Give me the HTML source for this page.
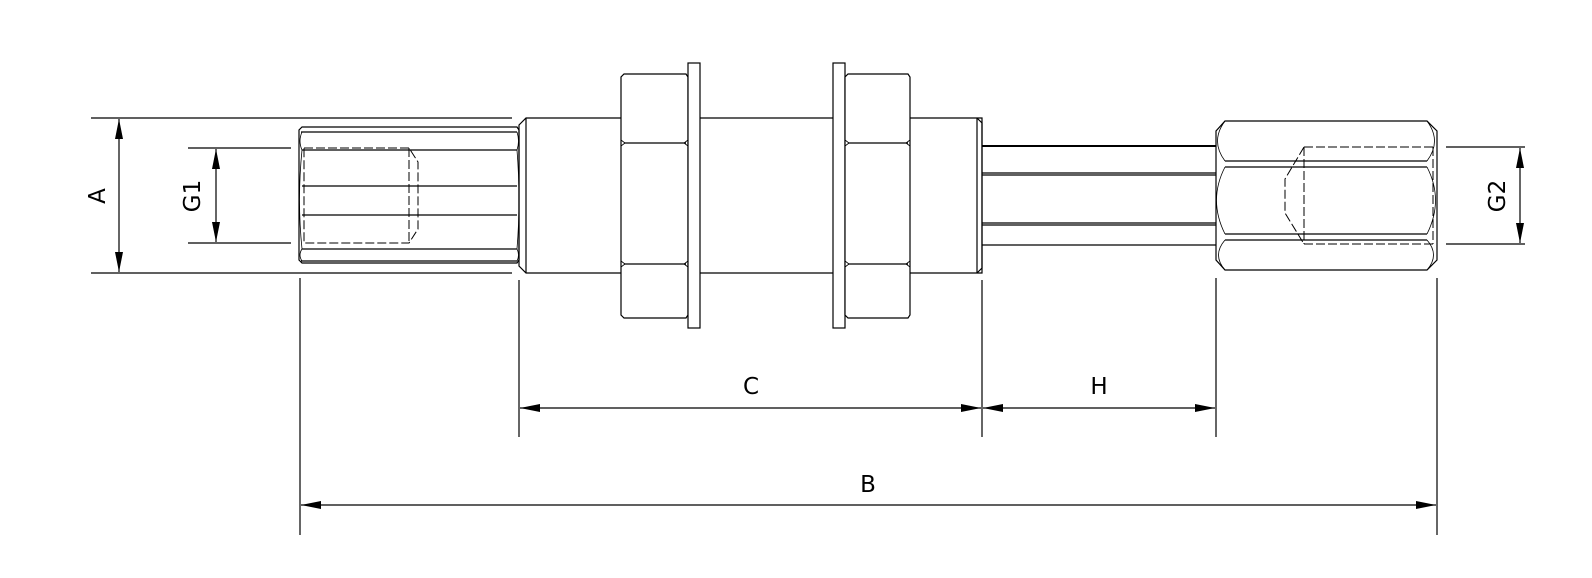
<!DOCTYPE html>
<html><head><style>html,body{margin:0;padding:0;background:#fff}svg{display:block}</style></head>
<body>
<svg width="1592" height="578" viewBox="0 0 1592 578" xmlns="http://www.w3.org/2000/svg" font-family="'DejaVu Sans','Liberation Sans',sans-serif" font-size="23">
<defs>
<marker id="ar" viewBox="0 0 20 8" refX="20" refY="4" markerWidth="20" markerHeight="8" markerUnits="userSpaceOnUse" orient="auto-start-reverse"><path d="M0,0 L20,4 L0,8 Z" fill="#000"/></marker>
</defs>
<g stroke="#000" stroke-width="1.2" fill="none">
<!-- A dimension -->
<line x1="91" y1="118" x2="512" y2="118"/><line x1="91" y1="273" x2="512" y2="273"/>
<line x1="119" y1="119" x2="119" y2="272" marker-start="url(#ar)" marker-end="url(#ar)"/>
<!-- G1 -->
<line x1="188" y1="148" x2="291" y2="148"/><line x1="188" y1="243" x2="291" y2="243"/>
<line x1="216" y1="149" x2="216" y2="242" marker-start="url(#ar)" marker-end="url(#ar)"/>
<!-- left fitting -->
<path d="M302,127 L517,127 L519,130 L519,260 L517,263 L302,263 L299,260 L299,130 Z"/>
<line x1="301" y1="132" x2="517" y2="132"/>
<line x1="302" y1="150" x2="517" y2="150"/>
<line x1="302" y1="186" x2="517" y2="186"/>
<line x1="302" y1="215" x2="517" y2="215"/>
<line x1="302" y1="249" x2="517" y2="249"/>
<line x1="301" y1="261" x2="517" y2="261"/>
<path d="M302,132 Q298,141 302,150 M302,150 Q297,200 302,249 M302,249 Q298,255 302,261 M517,132 Q520,141 517,150 M517,150 Q521,200 517,249 M517,249 Q520,255 517,261" stroke-width="0.8"/>
<path d="M304,148 L409,148 L418,162 L418,229 L409,243 L304,243 Z M409,148 L409,243" stroke-dasharray="9,3" stroke-width="1"/>
<!-- body -->
<path d="M519,125 L526,118 L982,118 L982,273 L526,273 L519,266 Z"/>
<line x1="526" y1="118" x2="526" y2="273"/>
<line x1="977" y1="118" x2="977" y2="273"/>
<path d="M977,118 L982,123 L982,268 L977,273"/>
<!-- nut1 + washer1 -->
<path d="M624,74 L686,74 L688,77 L688,315 L686,318 L624,318 L621,315 L621,77 Z" fill="#fff"/>
<line x1="624" y1="143" x2="686" y2="143"/><line x1="624" y1="264" x2="686" y2="264"/>
<path d="M621,140 L625,143 L621,146 M688,140 L684,143 L688,146 M621,261 L625,264 L621,267 M688,261 L684,264 L688,267" stroke-width="0.8"/>
<rect x="688" y="63" width="12" height="265" fill="#fff"/>
<!-- washer2 + nut2 -->
<rect x="833" y="63" width="12" height="265" fill="#fff"/>
<path d="M848,74 L908,74 L910,77 L910,315 L908,318 L848,318 L845,315 L845,77 Z" fill="#fff"/>
<line x1="848" y1="143" x2="908" y2="143"/><line x1="848" y1="264" x2="908" y2="264"/>
<path d="M845,140 L849,143 L845,146 M910,140 L906,143 L910,146 M845,261 L849,264 L845,267 M910,261 L906,264 L910,267" stroke-width="0.8"/>
<!-- tube -->
<line x1="982" y1="146" x2="1216" y2="146" stroke-width="2"/>
<line x1="982" y1="173" x2="1216" y2="173"/><line x1="982" y1="175" x2="1216" y2="175"/>
<line x1="982" y1="223" x2="1216" y2="223"/><line x1="982" y1="225" x2="1216" y2="225"/>
<line x1="982" y1="245" x2="1216" y2="245"/>
<!-- right nut -->
<path d="M1225,121 L1427,121 L1437,131 L1437,260 L1427,270 L1225,270 L1216,260 L1216,131 Z"/>
<line x1="1225" y1="161" x2="1427" y2="161"/><line x1="1225" y1="167" x2="1427" y2="167"/>
<line x1="1225" y1="234" x2="1427" y2="234"/><line x1="1225" y1="240" x2="1427" y2="240"/>
<path d="M1225,121 Q1210,141 1225,161 M1225,167 Q1208,200 1225,234 M1225,240 Q1212,255 1225,270 M1427,121 Q1442,141 1427,161 M1427,167 Q1444,200 1427,234 M1427,240 Q1440,255 1427,270" stroke-width="0.8"/>
<path d="M1304,147 L1433,147 M1304,244 L1433,244 M1304,147 L1304,244 M1433,147 L1433,244 M1304,147 L1285,179 L1285,213 L1304,244" stroke-dasharray="9,3" stroke-width="1"/>
<!-- G2 -->
<line x1="1446" y1="147" x2="1525" y2="147"/><line x1="1446" y1="244" x2="1525" y2="244"/>
<line x1="1520" y1="148" x2="1520" y2="243" marker-start="url(#ar)" marker-end="url(#ar)"/>
<!-- extension lines -->
<line x1="300" y1="278" x2="300" y2="535"/>
<line x1="1437" y1="278" x2="1437" y2="535"/>
<line x1="519" y1="280" x2="519" y2="437"/>
<line x1="982" y1="280" x2="982" y2="437"/>
<line x1="1216" y1="278" x2="1216" y2="437"/>
<!-- C, H, B -->
<line x1="520" y1="408" x2="981" y2="408" marker-start="url(#ar)" marker-end="url(#ar)"/>
<line x1="983" y1="408" x2="1215" y2="408" marker-start="url(#ar)" marker-end="url(#ar)"/>
<line x1="301" y1="505" x2="1436" y2="505" marker-start="url(#ar)" marker-end="url(#ar)"/>
</g>
<g fill="#000" text-anchor="middle">
<text x="751" y="394">C</text>
<text x="1099" y="394">H</text>
<text x="868" y="492">B</text>
<text transform="translate(105,196) rotate(-90)">A</text>
<text transform="translate(200,196) rotate(-90)">G1</text>
<text transform="translate(1505,196) rotate(-90)">G2</text>
</g>
</svg>
</body></html>
